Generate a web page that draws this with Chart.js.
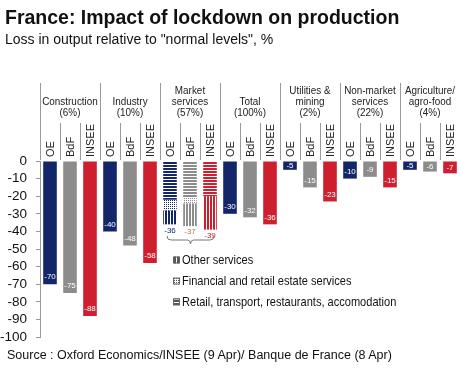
<!DOCTYPE html>
<html>
<head>
<meta charset="utf-8">
<script src="https://cdn.jsdelivr.net/npm/chart.js@4.4.1/dist/chart.umd.min.js"></script>
<style>
  body { margin: 0; background: #fff; font-family: "Liberation Sans", Arial, sans-serif; color: #111; }
  #wrap { position: relative; width: 460px; height: 369px; overflow: hidden; }
  #chart { position: absolute; left: 0; top: 0; }
  .txt { position: absolute; white-space: nowrap; }
  #title { left: 5px; top: 6px; font-size: 19.5px; font-weight: bold; }
  #subtitle { left: 5px; top: 31px; font-size: 14px; }
  #source { left: 7px; top: 348px; font-size: 12.5px; }
</style>
</head>
<body>
<div id="wrap">
  <canvas id="chart" width="460" height="369"></canvas>
  <div class="txt" id="title">France: Impact of lockdown on production</div>
  <div class="txt" id="subtitle">Loss in output relative to "normal levels", %</div>
  <div class="txt" id="source">Source : Oxford Economics/INSEE (9 Apr)/ Banque de France (8 Apr)</div>
</div>
<script>
(function () {
    "use strict";
    // sectors and their share of output
    var sources = ["OE", "BdF", "INSEE"];
    var groupNames = [["Construction"], ["Industry"], ["Market", "services"], ["Total"],
                      ["Utilities &", "mining"], ["Non-market", "services"], ["Agriculture/", "agro-food"]];
    var groupShares = [6, 10, 57, 100, 2, 22, 4];

    // loss in output, % (one value per sector)
    var oeLoss = [-70, -40, -36, -30, -5, -10, -5];
    var bdfLoss = [-75, -48, -37, -32, -15, -9, -6];
    var inseeLoss = [-88, -58, -39, -36, -23, -15, -7];

    // market services split (OE, BdF, INSEE)
    var marketGroup = 2;
    var marketRetail = [-22, -20.5, -20];
    var marketFinancial = [-6, -3.5, 0];
    var marketOther = [-8, -13, -19];

    var legendItems = ["Other services", "Financial and retail estate services",
                       "Retail, transport, restaurants, accomodation"];
    var yMin = -100, yMax = 0, yStep = 10;

    var colors = ["#14266a", "#8c8c8c", "#cd1f2e"];
    var marketLabelColors = ["#14266a", "#b8793a", "#cd1f2e"];
    var series = [oeLoss, bdfLoss, inseeLoss];

    var labels = [];
    groupNames.forEach(function () { sources.forEach(function (s) { labels.push(s); }); });

    function makePattern(kind, color) {
        var c = document.createElement("canvas");
        var n = kind === "d" ? 2 : 3;
        c.width = n; c.height = n;
        var g = c.getContext("2d");
        g.fillStyle = "#fff";
        g.fillRect(0, 0, n, n);
        g.fillStyle = color;
        if (kind === "h") g.fillRect(0, 0, 3, 2);
        else if (kind === "v") g.fillRect(0, 0, 2, 3);
        else g.fillRect(0, 0, 1, 1);
        return document.getElementById("chart").getContext("2d").createPattern(c, "repeat");
    }
    var patterns = {
        h: colors.map(function (c) { return makePattern("h", c); }),
        d: colors.map(function (c) { return makePattern("d", c); }),
        v: colors.map(function (c) { return makePattern("v", c); })
    };

    function slotData(fn) {
        var out = [];
        groupNames.forEach(function (_, g) {
            sources.forEach(function (_, k) { out.push(fn(g, k)); });
        });
        return out;
    }

    var datasets = sources.map(function (s, si) {
        return {
            label: s,
            kind: "plain",
            data: slotData(function (g, k) { return (k === si && g !== marketGroup) ? series[si][g] : null; }),
            backgroundColor: colors[si]
        };
    });
    [["h", marketRetail], ["d", marketFinancial], ["v", marketOther]].forEach(function (p) {
        datasets.push({
            label: p[0],
            kind: "market",
            data: slotData(function (g, k) { return g === marketGroup ? p[1][k] : null; }),
            backgroundColor: function (ctx) { return patterns[p[0]][ctx.dataIndex % 3]; }
        });
    });

    var decor = {
        id: "decor",
        afterDatasetsDraw: function (chart) {
            var ctx = chart.ctx, x = chart.scales.x, area = chart.chartArea;
            var slot = x.getPixelForValue(1) - x.getPixelForValue(0);
            ctx.save();
            // separators
            ctx.strokeStyle = "#9a9a9a";
            ctx.lineWidth = 1;
            for (var i = 0; i < labels.length; i++) {
                var bx = Math.round(x.getPixelForValue(i) - slot / 2) + 0.5;
                var top = (i % 3 === 0) ? 83 : 123;
                ctx.beginPath();
                ctx.moveTo(bx, top);
                ctx.lineTo(bx, area.top - 1);
                ctx.stroke();
            }
            // group labels
            ctx.fillStyle = "#222";
            ctx.font = "11px 'Liberation Sans', Arial, sans-serif";
            ctx.textAlign = "center";
            ctx.textBaseline = "middle";
            groupNames.forEach(function (lines, g) {
                var cx = x.getPixelForValue(g * 3 + 1);
                var all = lines.concat(["(" + groupShares[g] + "%)"]);
                all.forEach(function (t, j) {
                    var y = 113 - (all.length - 1 - j) * 11;
                    ctx.save();
                    ctx.translate(cx, y);
                    ctx.scale(0.9, 1);
                    ctx.fillText(t, 0, 0);
                    ctx.restore();
                });
            });
            // value labels inside plain bars
            ctx.font = "8px 'Liberation Sans', Arial, sans-serif";
            chart.data.datasets.forEach(function (ds, di) {
                if (ds.kind !== "plain") return;
                chart.getDatasetMeta(di).data.forEach(function (el, i) {
                    var v = ds.data[i];
                    if (v === null) return;
                    var y = Math.max((el.y + el.base) / 2, el.y - 7);
                    ctx.fillStyle = "#fff";
                    ctx.fillText(String(v), el.x, y);
                });
            });
            // totals below market bars
            var lastMeta = chart.getDatasetMeta(chart.data.datasets.length - 1);
            sources.forEach(function (s, k) {
                var el = lastMeta.data[marketGroup * 3 + k];
                ctx.fillStyle = marketLabelColors[k];
                ctx.fillText(String(series[k][marketGroup]), el.x, el.y + 6);
            });
            // brace
            var bl = x.getPixelForValue(marketGroup * 3) - 3;
            var br = x.getPixelForValue(marketGroup * 3 + 2) + 4;
            var bm = (bl + br) / 2;
            ctx.strokeStyle = "#777";
            ctx.beginPath();
            ctx.moveTo(bl, 236);
            ctx.quadraticCurveTo(bl, 240, bl + 4, 240);
            ctx.lineTo(bm - 3, 240);
            ctx.quadraticCurveTo(bm, 240, bm, 244);
            ctx.quadraticCurveTo(bm, 240, bm + 3, 240);
            ctx.lineTo(br - 4, 240);
            ctx.quadraticCurveTo(br, 240, br, 236);
            ctx.stroke();
            // legend
            var kinds = ["v", "d", "h"];
            ctx.textAlign = "left";
            ctx.font = "13px 'Liberation Sans', Arial, sans-serif";
            legendItems.forEach(function (t, j) {
                var ly = 260 + j * 21;
                ctx.fillStyle = makePattern(kinds[j], "#555");
                ctx.fillRect(173, ly - 3.5, 7, 7);
                ctx.strokeStyle = "#666";
                ctx.strokeRect(173.5, ly - 3, 6, 6);
                ctx.fillStyle = "#111";
                ctx.save();
                ctx.translate(182, ly);
                ctx.scale(0.85, 1);
                ctx.fillText(t, 0, 0);
                ctx.restore();
            });
            ctx.restore();
        }
    };

    new Chart(document.getElementById("chart").getContext("2d"), {
        type: "bar",
        data: { labels: labels, datasets: datasets },
        options: {
            responsive: false,
            animation: false,
            devicePixelRatio: 1,
            layout: { padding: { top: 0, left: 0, right: 0, bottom: 32 } },
            datasets: { bar: { categoryPercentage: 1, barPercentage: 0.68 } },
            plugins: { legend: { display: false }, tooltip: { enabled: false } },
            scales: {
                x: {
                    position: "top",
                    stacked: true,
                    grid: { display: false, drawTicks: false },
                    border: { display: false },
                    ticks: {
                        autoSkip: false, maxRotation: 90, minRotation: 90, padding: 4, labelOffset: 14,
                        color: "#222", font: { size: 11, family: "'Liberation Sans', Arial, sans-serif" }
                    },
                    afterFit: function (s) { s.height = 161; s.paddingLeft = 0; s.paddingRight = 0; }
                },
                y: {
                    stacked: true,
                    min: yMin, max: yMax,
                    grid: { drawOnChartArea: false, drawTicks: true, tickLength: 4, color: "#9a9a9a" },
                    border: { display: true, color: "#9a9a9a" },
                    ticks: {
                        stepSize: yStep, autoSkip: false, padding: 9, color: "#111",
                        font: { size: 13.5, family: "'Liberation Sans', Arial, sans-serif" }
                    },
                    afterFit: function (s) { s.width = 40; s.paddingTop = 0; s.paddingBottom = 0; }
                }
            }
        },
        plugins: [decor]
    });
})();
</script>
</body>
</html>
